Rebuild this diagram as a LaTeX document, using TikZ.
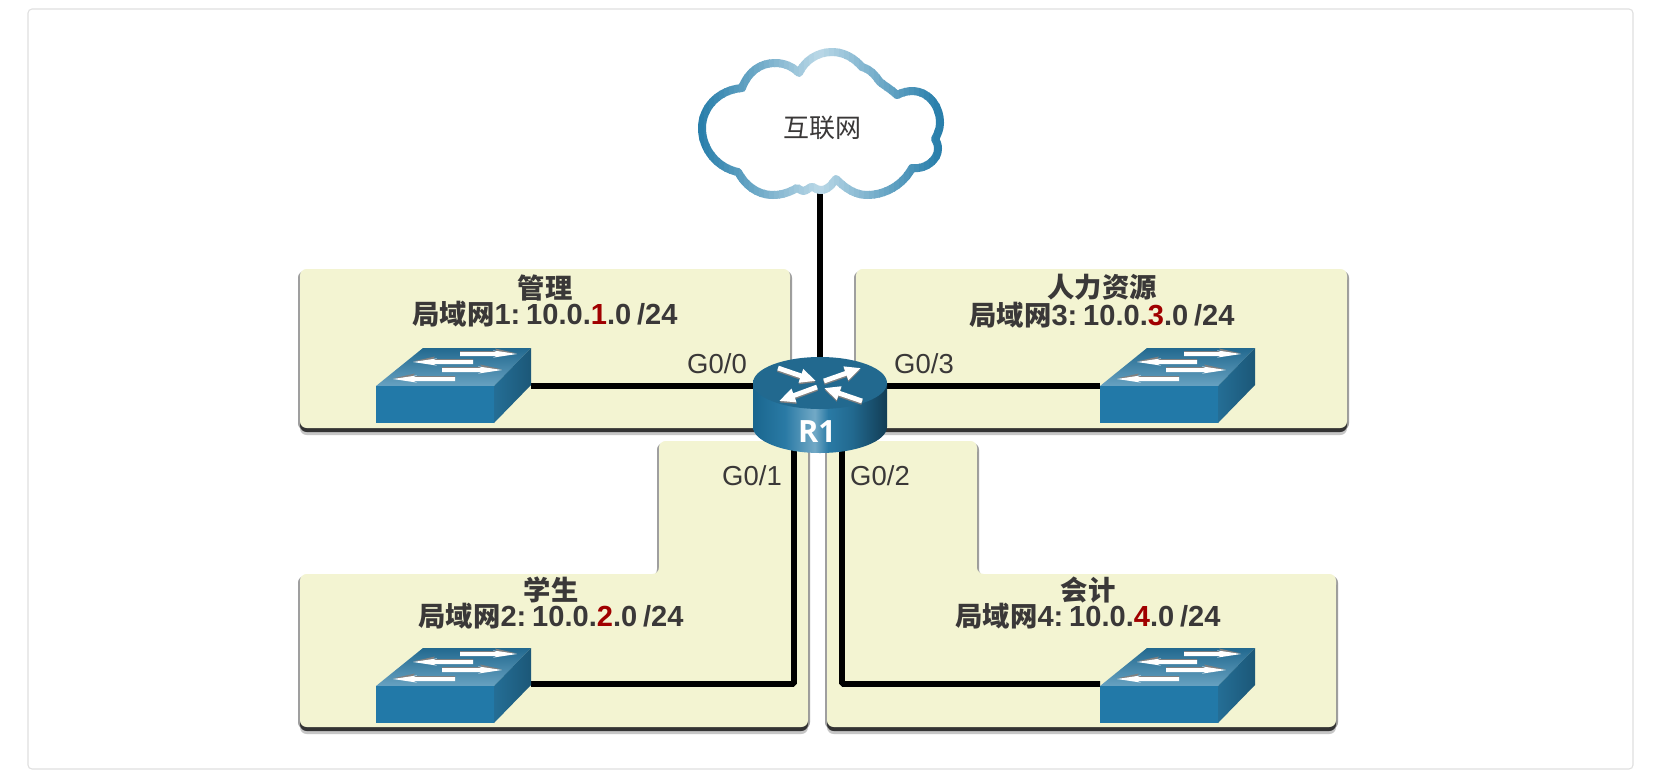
\documentclass[tikz,border=0pt]{standalone}
\usepackage{fontspec}
\setmainfont{Liberation Sans}
\newfontfamily\cjk{Noto Sans CJK SC}
\newfontfamily\rfont{Open Sans}
\usetikzlibrary{arrows.meta,calc}
\pgfdeclarelayer{bg}
\pgfsetlayers{bg,main}
\definecolor{panelc}{HTML}{F3F4D2}
\definecolor{txt}{HTML}{3A3838}
\definecolor{redn}{HTML}{A00000}
\definecolor{framec}{HTML}{E0E0E0}
\definecolor{cloudd}{HTML}{2A7FAB}
\definecolor{cloudl}{HTML}{BAD8E7}
\definecolor{swfront}{HTML}{2279A8}
\definecolor{ra}{HTML}{1A668E}
\definecolor{rb}{HTML}{2A7AA5}
\definecolor{rc}{HTML}{72A9C6}
\definecolor{rd}{HTML}{22698F}
\definecolor{re}{HTML}{123D55}
\pgfdeclarehorizontalshading{rbody}{100bp}{color(0bp)=(ra);color(25bp)=(ra);color(37bp)=(rb);color(48bp)=(rc);color(53bp)=(rb);color(62bp)=(rd);color(75bp)=(re);color(100bp)=(re)}
\newcommand\ptxt[2]{\lineskiplimit=-30pt\relax\baselineskip=19.6pt\relax{\cjk\fontsize{20.5}{19.6}\selectfont #1}\\\frenchspacing\spaceskip=0.2em\relax{\cjk\fontsize{20.5}{19.6}\selectfont 局域网}#2: 10.0.\textcolor{redn}{#2}.0 /24}
\newcommand\swar[4]{%
  \fill[gray] (#1,#3-3) -- (#2-#4*20,#3-3) -- (#2-#4*22,#3-5.5) -- (#2,#3-0.6) -- (#1,#3-0.6) -- cycle;
  \fill[white] (#1,#3-1.8) -- (#2-#4*20,#3-1.8) -- (#2-#4*24,#3-3.6) -- (#2,#3) -- (#2-#4*24,#3+3.6) -- (#2-#4*20,#3+2) -- (#1,#3+2) -- cycle;}
\newcommand\rarr[2]{%
  \draw[gray,line width=3.6pt,-{Triangle[length=12pt,width=10pt]},shift={(0,1.5)}] #1 -- #2;
  \draw[white,line width=3.6pt,-{Triangle[length=12pt,width=10pt]}] #1 -- #2;}
\newcommand\panelshape[1]{%
  \fill[gray!45,shift={(0,7)}] #1;
  \fill[gray!75,shift={(-2,2)}] #1;
  \fill[gray!75,shift={(2,2)}] #1;
  \fill[black!80,shift={(0,4)}] #1;
  \fill[panelc] #1;}
\def\cloudpath{(702,128) .. controls (702,108) and (718,90) .. (742,88)
 .. controls (748,72) and (760,63) .. (775,63) .. controls (785,63) and (793,67) .. (799,73)
 .. controls (805,60) and (818,52) .. (832,52) .. controls (845,52) and (855,59) .. (862,67)
 .. controls (872,70) and (876,77) .. (880,82) .. controls (885,86) and (892,90) .. (897,95)
 .. controls (903,92) and (908,91) .. (913,91) .. controls (930,92) and (940,107) .. (940,123)
 .. controls (940,130) and (937,135) .. (935,139) .. controls (937,142) and (938,145) .. (938,149)
 .. controls (938,160) and (925,170) .. (912,168)
 .. controls (903,185) and (885,195) .. (867,195) .. controls (855,195) and (845,188) .. (836,179)
 .. controls (832,183) and (830,190) .. (820,190) .. controls (817,190) and (814,187) .. (812,187)
 .. controls (809,187) and (807,191) .. (803,191) .. controls (800,191) and (799,188) .. (797,188)
 .. controls (790,192) and (782,195) .. (773,195) .. controls (757,195) and (745,185) .. (738,172)
 .. controls (718,168) and (702,150) .. (702,128) -- cycle}
\tikzset{
  x=0.75pt,y=-0.75pt,
  every node/.style={inner sep=0pt,outer sep=0pt},
  link/.style={draw=black,line width=4.2pt,rounded corners=1pt},
  plabel/.style={font=\fontsize{20.6}{20.6}\selectfont,text=txt},
  ptitle/.style={font=\fontsize{21.8}{19.6}\selectfont\bfseries,text=txt,align=center},
  switchpic/.pic={
    \shade[top color=rd,bottom color=rc!85!rb] (0,0) -- (47,-38) -- (155,-38) -- (118,0) -- cycle;
    \fill[swfront] (0,0) rectangle (118,37);
    \shade[left color=rd!70!rb,right color=rd!60!re] (118,0) -- (155,-38) -- (155,-1) -- (118,37) -- cycle;
    \swar{84}{141}{-32}{1}
    \swar{97}{37}{-24}{-1}
    \swar{66}{126}{-16}{1}
    \swar{79}{17}{-7}{-1}
    \coordinate (-e) at (155,0);
    \coordinate (-w) at (0,0);
    \coordinate (-el) at (155,-2);
    \coordinate (-wl) at (0,-2);
  }
}
\begin{document}
\begin{tikzpicture}
\useasboundingbox (0,0) rectangle (1666,782);
\begin{pgfonlayer}{bg}
\fill[white] (0,0) rectangle (1666,782);
\draw[framec,line width=0.8pt,rounded corners=3pt] (28,9) rectangle (1633,769);
\panelshape{[rounded corners=5pt] (300,269) rectangle (790,428)}
\panelshape{[rounded corners=5pt] (856,269) rectangle (1347,428)}
\panelshape{[rounded corners=5pt] (300,727) -- (300,574) -- (659,574) -- (659,441) -- (808,441) -- (808,727) -- cycle}
\panelshape{[rounded corners=5pt] (827,727) -- (827,441) -- (977,441) -- (977,574) -- (1336,574) -- (1336,727) -- cycle}
\end{pgfonlayer}

% cloud with a horizontal colour run on its outline
\foreach \i in {0,...,51}{
  \pgfmathsetmacro\xa{694+\i*5}
  \pgfmathsetmacro\xb{\xa+6}
  \pgfmathsetmacro\pp{min(100,100*abs(\xa+3-820)/118)}
  \begin{scope}
    \clip (\xa,30) rectangle (\xb,210);
    \draw[cloudd!\pp!cloudl,line width=6pt,line join=round] \cloudpath;
  \end{scope}
}
\node[font=\cjk\fontsize{19.5}{19.5}\selectfont,text=txt] (net) at (822,128) {互联网};
\coordinate (netb) at (820,192);

% switches
\pic (sw1) at (376,386) {switchpic};
\pic (sw3) at (1100,386) {switchpic};
\pic (sw2) at (376,686) {switchpic};
\pic (sw4) at (1100,686) {switchpic};

% router
\shade[shading=rbody] (753,383) -- (753,427) .. controls (753,441) and (783,453) .. (820,453) .. controls (857,453) and (887,441) .. (887,427) -- (887,383) -- cycle;
\shade[top color=rd,middle color=rb,bottom color=rd] (820,383) ellipse [x radius=67,y radius=26];
\rarr{(778,368)}{(816,381)}
\rarr{(824,381)}{(861,368)}
\rarr{(817,387)}{(779,401)}
\rarr{(862,401)}{(824,388)}
\node[font=\rfont\fontsize{23}{23}\selectfont\bfseries,text=white] (R1) at (817,432) {R1};
\coordinate (rt) at (820,360);
\coordinate (rw) at (760,386);
\coordinate (rr) at (880,386);
\coordinate (rsw) at (794,440);
\coordinate (rse) at (842,440);

\begin{pgfonlayer}{bg}
\draw[link] (netb) -- (rt);
\draw[link] (sw1-e) -- (rw);
\draw[link] (sw3-w) -- (rr);
\draw[link] (sw2-el) -- (sw2-el -| rsw) -- (rsw);
\draw[link] (sw4-wl) -- (sw4-wl -| rse) -- (rse);
\end{pgfonlayer}

\node[plabel] (g0) at (717,364) {G0/0};
\node[plabel] (g3) at (924,364) {G0/3};
\node[plabel] (g1) at (752,476) {G0/1};
\node[plabel] (g2) at (880,476) {G0/2};

\node[ptitle] (t1) at (545,301) {\ptxt{管理}{1}};
\node[ptitle] (t3) at (1102,301) {\ptxt{人力资源}{3}};
\node[ptitle] (t2) at (551,603) {\ptxt{学生}{2}};
\node[ptitle] (t4) at (1088,603) {\ptxt{会计}{4}};
\end{tikzpicture}
\end{document}
